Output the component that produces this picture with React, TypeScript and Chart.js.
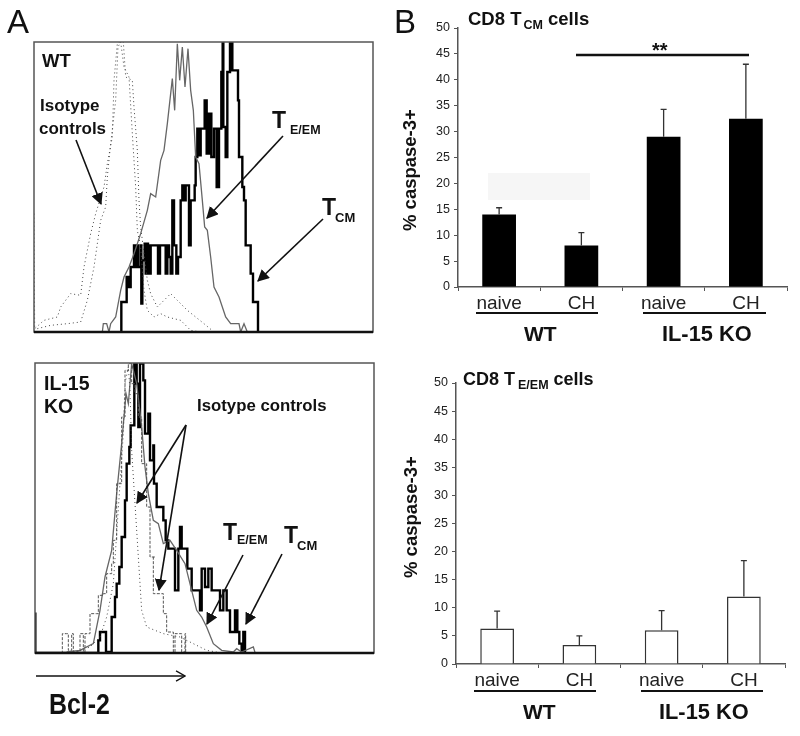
import { useEffect, useRef } from 'react';
import type { CSSProperties, ReactNode } from 'react';
import { Chart, registerables } from 'chart.js';

Chart.register(...registerables);

const FONT = '"Liberation Sans", Arial, sans-serif';

// Panel A: histograms, [channel, count]
const wtTcm = [
  [260, 0], [262, 90], [275, 90], [278, 165], [285, 135], [290, 195], [298, 195], [300, 260], [303, 195], [306, 260],
  [312, 260], [312, 195], [320, 260], [322, 85], [325, 215], [332, 265], [335, 175], [338, 265], [342, 175], [345, 260],
  [348, 175], [350, 260], [370, 260], [372, 175], [378, 260], [392, 260], [395, 175], [400, 260], [405, 225], [410, 175],
  [415, 395], [420, 260], [427, 175], [432, 225], [440, 395], [445, 440], [450, 395], [455, 440], [460, 440], [465, 260],
  [470, 395], [482, 440], [485, 525], [490, 610], [495, 530], [500, 610], [505, 610], [512, 695], [518, 535], [525, 655],
  [532, 525], [540, 610], [548, 435], [555, 610], [562, 780], [566, 870], [568, 615], [575, 525], [580, 780], [588, 875],
  [595, 785], [607, 785], [612, 695], [615, 525], [625, 435], [630, 395], [635, 260], [645, 260], [650, 175], [657, 90],
  [670, 90], [672, 0],
];
const wtTem = [
  [205, 0], [208, 25], [218, 25], [225, 0], [230, 25], [245, 45], [260, 125], [270, 165], [285, 195], [300, 235],
  [320, 295], [340, 365], [350, 415], [365, 405], [380, 515], [390, 545], [400, 625], [415, 760], [422, 665], [430, 865],
  [437, 755], [445, 855], [453, 735], [462, 850], [470, 725], [478, 665], [485, 525], [495, 505], [505, 395], [512, 315],
  [520, 305], [530, 225], [540, 135], [555, 105], [575, 45], [590, 25], [615, 25], [620, 0], [630, 25], [640, 0],
];
const wtIsoA = [
  [0, 355], [2, 10], [30, 35], [70, 45], [80, 75], [110, 115], [140, 110], [150, 195], [170, 295], [185, 355],
  [210, 435], [220, 505], [235, 585], [240, 755], [250, 865], [255, 870], [268, 870], [275, 765], [295, 755], [300, 675],
  [310, 545], [315, 395], [320, 315], [340, 155], [350, 115], [370, 75], [410, 115], [430, 95], [460, 65], [510, 25], [540, 0],
];
const wtIsoB = [
  [10, 10], [50, 20], [100, 25], [140, 30], [160, 95], [180, 195], [200, 335], [215, 375], [220, 465], [230, 565],
  [245, 695], [252, 855], [260, 870], [270, 795], [285, 765], [295, 595], [305, 435], [310, 305], [320, 255], [330, 125],
  [340, 65], [360, 45], [380, 55], [400, 45], [440, 35], [470, 5], [500, 0],
];
const koTcm = [
  [0, 118], [1, 0], [185, 0], [190, 38], [195, 63], [213, 63], [213, 3], [220, 3], [230, 108], [240, 168],
  [245, 208], [253, 258], [260, 348], [270, 458], [275, 568], [283, 618], [287, 683], [295, 683], [298, 868], [305, 808],
  [310, 678], [315, 868], [323, 868], [325, 818], [330, 658], [340, 718], [345, 578], [355, 623], [357, 508], [365, 438],
  [375, 438], [385, 398], [392, 338], [400, 313], [410, 313], [420, 308], [420, 188], [430, 313], [435, 378], [440, 313],
  [450, 313], [457, 253], [470, 188], [490, 188], [495, 128], [500, 253], [510, 198], [520, 253], [530, 188], [545, 188],
  [555, 128], [565, 188], [575, 128], [585, 63], [600, 128], [607, 63], [613, 28], [620, 3], [625, 63], [630, 0],
];
const koTem = [
  [95, 3], [135, 8], [175, 28], [195, 128], [210, 228], [230, 308], [245, 478], [260, 628], [273, 778], [280, 748],
  [290, 868], [305, 808], [320, 678], [330, 558], [340, 478], [355, 398], [370, 388], [385, 328], [405, 338], [425, 308],
  [450, 268], [470, 188], [485, 128], [500, 108], [515, 78], [535, 28], [560, 8], [595, 3], [605, 13], [620, 3], [655, 18], [660, 2],
];
const koIsoDash = [
  [80, 0], [82, 58], [95, 58], [100, 8], [110, 58], [115, 3], [135, 58], [145, 3], [150, 58], [163, 58],
  [165, 118], [185, 118], [190, 173], [205, 178], [215, 238], [230, 268], [235, 338], [245, 508], [260, 708], [270, 848],
  [280, 868], [290, 808], [300, 778], [310, 708], [320, 568], [335, 438], [345, 288], [360, 288], [355, 178], [380, 178],
  [385, 118], [395, 63], [415, 63], [415, 3], [420, 58], [435, 58], [440, 3], [450, 58], [452, 0],
];
const koIsoDot = [
  [125, 3], [165, 18], [195, 48], [215, 108], [235, 208], [245, 358], [265, 658], [270, 808], [280, 858], [285, 788],
  [290, 608], [300, 448], [310, 288], [320, 128], [335, 78], [385, 58], [435, 48], [475, 28], [515, 8], [545, 3],
];

// Panel B: bars
const groups = ['naive', 'CH', 'naive', 'CH'];
const tcmValues = [14, 8, 29, 32.5];
const tcmUpper = [15.3, 10.5, 34.3, 43];
const temValues = [6.3, 3.4, 6, 12];
const temUpper = [9.4, 5, 9.5, 18.4];

type Series = { points: number[][]; width: number; color: string; dash?: number[]; stepped?: boolean };

function Histogram({ left, top, series }: { left: number; top: number; series: Series[] }) {
  const canvasRef = useRef<HTMLCanvasElement>(null);

  useEffect(() => {
    if (!canvasRef.current) return;
    const frame = {
      id: 'frame',
      afterDatasetsDraw(chart: Chart) {
        const { ctx, chartArea: a } = chart;
        ctx.save();
        ctx.strokeStyle = '#555';
        ctx.lineWidth = 1.5;
        ctx.strokeRect(a.left, a.top, a.right - a.left, a.bottom - a.top);
        ctx.strokeStyle = '#111';
        ctx.lineWidth = 2.5;
        ctx.beginPath();
        ctx.moveTo(a.left, a.bottom);
        ctx.lineTo(a.right, a.bottom);
        ctx.stroke();
        ctx.restore();
      },
    };
    const chart = new Chart(canvasRef.current, {
      type: 'line',
      data: {
        datasets: series.map((s) => ({
          data: s.points.map(([x, y]) => ({ x, y })),
          borderColor: s.color,
          borderWidth: s.width,
          borderDash: s.dash ?? [],
          stepped: s.stepped ?? false,
          pointRadius: 0,
          fill: false,
          tension: 0,
        })),
      },
      options: {
        animation: false,
        responsive: false,
        devicePixelRatio: 1,
        layout: { padding: 3 },
        plugins: { legend: { display: false }, tooltip: { enabled: false } },
        scales: {
          x: { type: 'linear', min: 0, max: 1017, display: false },
          y: { min: 0, max: 870, display: false },
        },
      },
      plugins: [frame],
    } as any);
    return () => chart.destroy();
  }, [series]);

  return (
    <canvas
      ref={canvasRef}
      width={345}
      height={296}
      style={{ position: 'absolute', left, top, width: 345, height: 296 }}
    />
  );
}

type BarProps = { left: number; top: number; height: number; plotTop: number; values: number[]; upper: number[]; fill: string };

function BarPanel({ left, top, height, plotTop, values, upper, fill }: BarProps) {
  const canvasRef = useRef<HTMLCanvasElement>(null);

  useEffect(() => {
    if (!canvasRef.current) return;
    const errorBars = {
      id: 'errorBars',
      afterDatasetsDraw(chart: Chart) {
        const { ctx, scales } = chart;
        ctx.save();
        ctx.strokeStyle = '#333';
        ctx.lineWidth = 1.3;
        upper.forEach((u, i) => {
          const x = scales.x.getPixelForValue(i);
          const y0 = scales.y.getPixelForValue(values[i]);
          const y1 = scales.y.getPixelForValue(u);
          ctx.beginPath();
          ctx.moveTo(x, y0);
          ctx.lineTo(x, y1);
          ctx.moveTo(x - 3, y1);
          ctx.lineTo(x + 3, y1);
          ctx.stroke();
        });
        ctx.restore();
      },
    };
    const chart = new Chart(canvasRef.current, {
      type: 'bar',
      data: {
        labels: groups,
        datasets: [
          {
            data: values,
            backgroundColor: fill,
            borderColor: fill === '#000' ? '#000' : '#333',
            borderWidth: fill === '#000' ? 0 : 1.5,
            barPercentage: 1,
            categoryPercentage: 0.41,
          },
        ],
      },
      options: {
        animation: false,
        responsive: false,
        devicePixelRatio: 1,
        layout: { padding: { top: plotTop, right: 3 } },
        plugins: { legend: { display: false }, tooltip: { enabled: false } },
        scales: {
          x: {
            grid: { drawOnChartArea: false, tickLength: 4, color: '#555' },
            border: { color: '#555', width: 1.5 },
            ticks: { color: '#222', font: { family: FONT, size: 19 }, padding: 1, maxRotation: 0 },
            afterFit: (s: any) => { s.height = 26; },
          },
          y: {
            min: 0,
            max: 50,
            grid: { drawOnChartArea: false, tickLength: 4, color: '#555' },
            border: { color: '#555', width: 1.5 },
            ticks: { stepSize: 5, color: '#222', font: { family: FONT, size: 12.5 }, padding: 4 },
            afterFit: (s: any) => { s.width = 40; },
          },
        },
      },
      plugins: [errorBars],
    } as any);
    return () => chart.destroy();
  }, [values, upper, fill, plotTop]);

  return (
    <canvas
      ref={canvasRef}
      width={372}
      height={height}
      style={{ position: 'absolute', left, top, width: 372, height }}
    />
  );
}

function Text({ x, y, size, bold = true, style, children }: { x: number; y: number; size: number; bold?: boolean; style?: CSSProperties; children: ReactNode }) {
  return (
    <div
      style={{
        position: 'absolute',
        left: x,
        top: y,
        fontFamily: FONT,
        fontSize: size,
        fontWeight: bold ? 700 : 400,
        lineHeight: 1,
        color: '#111',
        whiteSpace: 'nowrap',
        ...style,
      }}
    >
      {children}
    </div>
  );
}

const Arrow = ({ x1, y1, x2, y2 }: { x1: number; y1: number; x2: number; y2: number }) => (
  <line x1={x1} y1={y1} x2={x2} y2={y2} stroke="#111" strokeWidth={1.6} markerEnd="url(#head)" />
);

const wtSeries: Series[] = [
  { points: wtIsoA, width: 1, color: '#444', dash: [1, 3] },
  { points: wtIsoB, width: 1, color: '#444', dash: [1, 3] },
  { points: wtTem, width: 1.3, color: '#666' },
  { points: wtTcm, width: 2.4, color: '#000', stepped: true },
];
const koSeries: Series[] = [
  { points: koIsoDot, width: 1, color: '#444', dash: [1, 3] },
  { points: koIsoDash, width: 1, color: '#555', dash: [3, 1.5], stepped: true },
  { points: koTem, width: 1.3, color: '#666' },
  { points: koTcm, width: 2.4, color: '#000', stepped: true },
];

export default function App() {
  useEffect(() => {
    document.body.style.margin = '0';
  }, []);

  return (
    <div style={{ position: 'relative', width: 800, height: 736, background: '#fff', overflow: 'hidden' }}>
      <div style={{ position: 'absolute', left: 488, top: 173, width: 102, height: 27, background: '#f6f6f6' }} />

      <Histogram left={30.5} top={39} series={wtSeries} />
      <Histogram left={32} top={360} series={koSeries} />
      <BarPanel left={418} top={7} height={306} plotTop={21} values={tcmValues} upper={tcmUpper} fill="#000" />
      <BarPanel left={416} top={362} height={328} plotTop={21} values={temValues} upper={temUpper} fill="#fff" />

      <svg width={800} height={736} style={{ position: 'absolute', left: 0, top: 0 }}>
        <defs>
          <marker id="head" viewBox="0 0 10 10" refX="9" refY="5" markerWidth="7.5" markerHeight="7.5" orient="auto">
            <path d="M0 0 L10 5 L0 10 Z" fill="#111" />
          </marker>
          <marker id="open" viewBox="0 0 10 10" refX="9" refY="5" markerWidth="7" markerHeight="7" orient="auto">
            <path d="M1 0.5 L9 5 L1 9.5" fill="none" stroke="#111" strokeWidth="1.2" />
          </marker>
        </defs>
        <Arrow x1={76} y1={140} x2={101} y2={204} />
        <Arrow x1={283} y1={136} x2={207} y2={218} />
        <Arrow x1={323} y1={219} x2={258} y2={281} />
        <Arrow x1={186} y1={425} x2={137} y2={503} />
        <Arrow x1={186} y1={425} x2={159} y2={590} />
        <Arrow x1={243} y1={555} x2={207} y2={624} />
        <Arrow x1={282} y1={554} x2={246} y2={624} />
        <line x1={36} y1={676} x2={185} y2={676} stroke="#111" strokeWidth={1.6} markerEnd="url(#open)" />
        <line x1={576} y1={55} x2={749} y2={55} stroke="#111" strokeWidth={2.5} />
        <line x1={476} y1={313} x2={598} y2={313} stroke="#111" strokeWidth={2} />
        <line x1={643} y1={313} x2={766} y2={313} stroke="#111" strokeWidth={2} />
        <line x1={474} y1={691} x2={596} y2={691} stroke="#111" strokeWidth={2} />
        <line x1={641} y1={691} x2={763} y2={691} stroke="#111" strokeWidth={2} />
      </svg>

      <Text x={7} y={5} size={33} bold={false}>A</Text>
      <Text x={394} y={5} size={33} bold={false}>B</Text>

      <Text x={42} y={52} size={18.5}>WT</Text>
      <Text x={40} y={97} size={17}>Isotype</Text>
      <Text x={39} y={120} size={17}>controls</Text>
      <Text x={272} y={109} size={23}>T</Text>
      <Text x={290} y={124} size={12.5}>E/EM</Text>
      <Text x={322} y={196} size={23}>T</Text>
      <Text x={335} y={211} size={13}>CM</Text>

      <Text x={44} y={374} size={19.5}>IL-15</Text>
      <Text x={44} y={397} size={19.5}>KO</Text>
      <Text x={197} y={398} size={16.8}>Isotype controls</Text>
      <Text x={223} y={521} size={23}>T</Text>
      <Text x={237} y={534} size={12.5}>E/EM</Text>
      <Text x={284} y={524} size={23}>T</Text>
      <Text x={297} y={539} size={13}>CM</Text>
      <Text x={49} y={689} size={30} style={{ transform: 'scaleX(0.83)', transformOrigin: 'left top' }}>Bcl-2</Text>

      <Text x={468} y={10} size={18.5}>CD8 T<span style={{ fontSize: 12.5, position: 'relative', top: 4, marginLeft: 2 }}>CM</span> cells</Text>
      <Text x={463} y={370} size={18}>CD8 T<span style={{ fontSize: 12.5, position: 'relative', top: 4, marginLeft: 3 }}>E/EM</span> cells</Text>
      <Text x={652} y={40} size={20}>**</Text>

      <Text x={524} y={323} size={21}>WT</Text>
      <Text x={662} y={323} size={21.8}>IL-15 KO</Text>
      <Text x={523} y={701} size={21}>WT</Text>
      <Text x={659} y={701} size={21.8}>IL-15 KO</Text>

      <Text x={401} y={231} size={18.5} style={{ transform: 'rotate(-90deg)', transformOrigin: 'left top' }}>% caspase-3+</Text>
      <Text x={402} y={578} size={18.5} style={{ transform: 'rotate(-90deg)', transformOrigin: 'left top' }}>% caspase-3+</Text>
    </div>
  );
}
